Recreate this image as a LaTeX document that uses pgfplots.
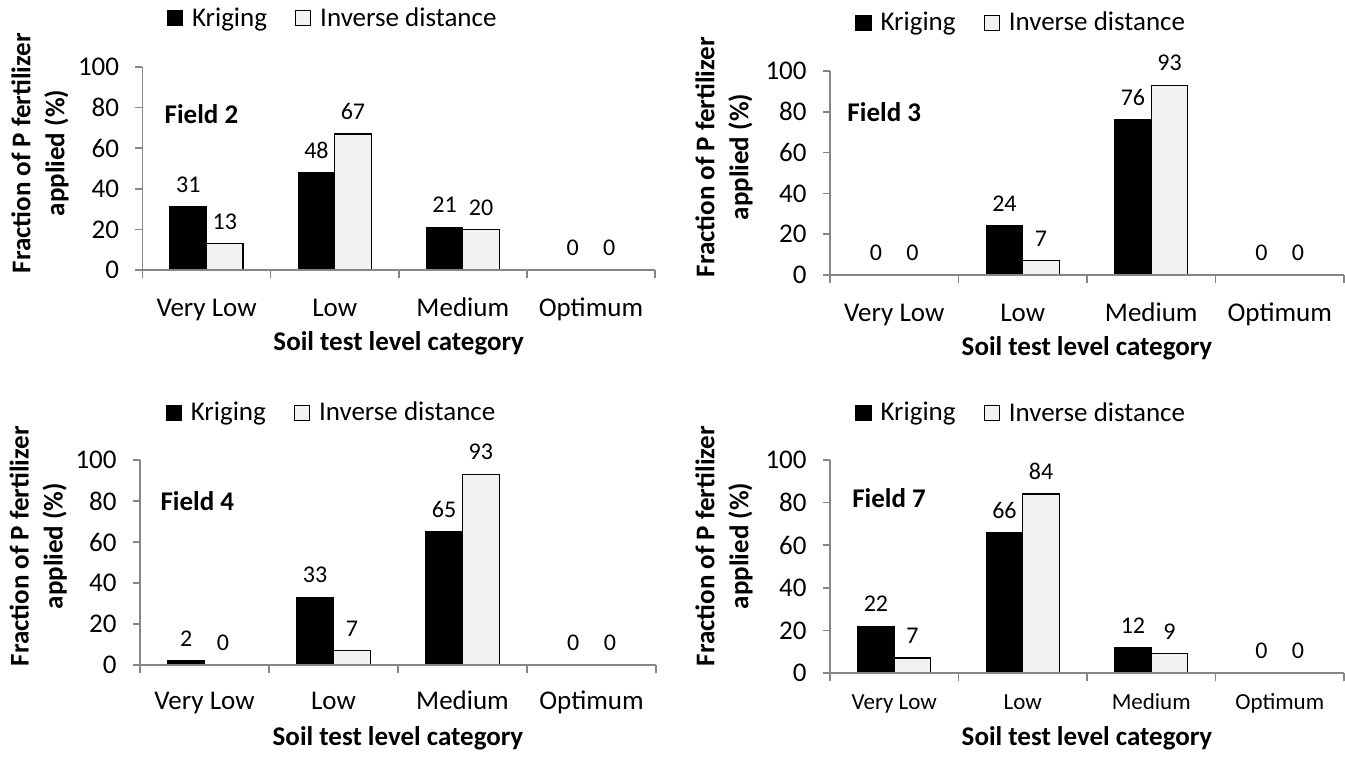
\documentclass[border=0pt]{standalone}
\usepackage{fontspec}
\setmainfont{Carlito}
\usepackage{pgfplots}
\pgfplotsset{compat=1.18}

\definecolor{axgray}{HTML}{868686}
\definecolor{idw}{HTML}{F2F2F2}

\def\bigf{\fontsize{13.5}{17}\selectfont}
\def\smallf{\fontsize{12}{14}\selectfont}

\pgfplotsset{
  soilpanel/.style={
    scale only axis,
    ybar=0pt,
    bar width=0.285,
    xmin=-0.5, xmax=3.5, ymin=0, ymax=100,
    axis x line=bottom, axis y line=left,
    axis line style={-, draw=axgray, line width=0.75pt},
    axis on top,
    tick align=outside,
    xtick={0,1,2,3},
    xticklabels={Very Low, Low, Medium, Optimum},
    x tick style={draw=none},
    extra x ticks={-0.5,0.5,1.5,2.5,3.5},
    extra x tick labels={,,,,},
    extra x tick style={x tick style={draw=axgray, line width=0.75pt}, major tick length=4pt},
    ytick={0,20,...,100},
    y tick style={draw=axgray, line width=0.75pt},
    major tick length=3.5pt,
    /pgf/number format/assume math mode=true,
    yticklabel style={font=\bigf, anchor=east, inner sep=0pt, xshift=-8pt},
    xticklabel style={anchor=base, inner sep=0pt},
    ylabel={Fraction of P fertilizer\\applied (\%)},
    xlabel={Soil test level category},
    ylabel style={align=center, font=\bfseries\bigf, anchor=center},
    xlabel style={font=\bfseries\bigf, at={(axis description cs:0.5,0)}, anchor=center},
    cycle list={{fill=black,draw=black,line width=0.6pt},{fill=idw,draw=black,line width=0.6pt}},
    nodes near coords,
    every node near coord/.append style={font=\smallf, text=black, anchor=base, yshift=7.2pt},
    legend columns=-1,
    legend image code/.code={\draw[#1, draw=black, line width=0.6pt] (0pt,-3.75pt) rectangle (7.5pt,3.75pt);},
    legend style={draw=none, fill=none, font=\bigf, anchor=center,
      /tikz/every odd column/.append style={column sep=2.5pt},
      /tikz/every even column/.append style={column sep=12pt}},
  },
}
\tikzset{fieldlab/.style={anchor=west, inner sep=0pt, font=\bfseries\bigf}}

\begin{document}
\begin{tikzpicture}
\useasboundingbox (0,0) rectangle (672.5pt,378.5pt);

% Field 2
\begin{axis}[soilpanel, anchor=south west, at={(71.25pt,243.5pt)},
  width=256.25pt, height=101.5pt,
  xticklabel style={font=\bigf, yshift=-19.85pt},
  xlabel style={yshift=-36.5pt},
  ylabel style={at={(axis description cs:-0.2,0.576)}},
  legend style={at={(axis description cs:0.373,1.24)}}]
\addplot coordinates {(0,31) (1,48) (2,21) (3,0)};
\addplot coordinates {(0,13) (1,67) (2,20) (3,0)};
\legend{Kriging, Inverse distance}
\node[fieldlab] at (axis cs:-0.33,77) {Field 2};
\end{axis}

% Field 3
\begin{axis}[soilpanel, anchor=south west, at={(415pt,241pt)},
  width=257pt, height=102pt,
  xticklabel style={font=\bigf, yshift=-19.85pt},
  xlabel style={yshift=-36.5pt},
  ylabel style={at={(axis description cs:-0.206,0.578)}},
  legend style={at={(axis description cs:0.374,1.235)}}]
\addplot coordinates {(0,0) (1,24) (2,76) (3,0)};
\addplot coordinates {(0,0) (1,7) (2,93) (3,0)};
\legend{Kriging, Inverse distance}
\node[fieldlab] at (axis cs:-0.367,80) {Field 3};
\end{axis}

% Field 4
\begin{axis}[soilpanel, anchor=south west, at={(70pt,46pt)},
  width=258pt, height=102.5pt,
  xticklabel style={font=\bigf, yshift=-18.85pt},
  xlabel style={yshift=-36.5pt},
  ylabel style={at={(axis description cs:-0.197,0.58)}},
  legend style={at={(axis description cs:0.373,1.229)}}]
\addplot coordinates {(0,2) (1,33) (2,65) (3,0)};
\addplot coordinates {(0,0) (1,7) (2,93) (3,0)};
\legend{Kriging, Inverse distance}
\node[fieldlab] at (axis cs:-0.344,80) {Field 4};
\end{axis}

% Field 7
\begin{axis}[soilpanel, anchor=south west, at={(415pt,42pt)},
  width=257pt, height=106.5pt,
  xticklabel style={font=\fontsize{11.5}{14}\selectfont, yshift=-14.7pt},
  xlabel style={yshift=-32.5pt},
  ylabel style={at={(axis description cs:-0.206,0.596)}},
  legend style={at={(axis description cs:0.374,1.22)}}]
\addplot coordinates {(0,22) (1,66) (2,12) (3,0)};
\addplot coordinates {(0,7) (1,84) (2,9) (3,0)};
\legend{Kriging, Inverse distance}
\node[fieldlab] at (axis cs:-0.33,82) {Field 7};
\end{axis}
\end{tikzpicture}
\end{document}
